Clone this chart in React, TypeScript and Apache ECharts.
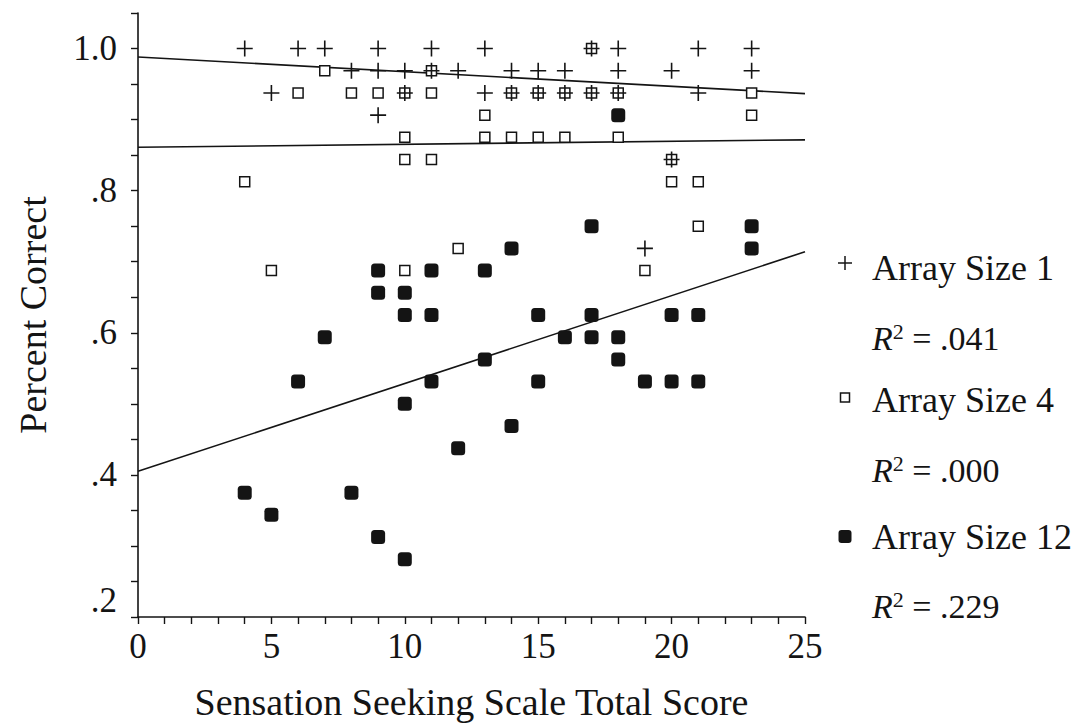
import React, { useEffect, useRef } from 'react';
import * as echarts from 'echarts';

// Sensation Seeking Scale total score (x) vs percent correct (y)
const size1Points: [number, number][] = [
  [4, 1.0], [5, 0.9375], [6, 1.0], [7, 1.0], [8, 0.96875], [9, 1.0], [9, 0.96875], [9, 0.90625],
  [10, 0.96875], [10, 0.9375], [11, 1.0], [11, 0.96875], [12, 0.96875], [13, 1.0], [13, 0.9375],
  [14, 0.96875], [14, 0.9375], [15, 0.96875], [15, 0.9375], [16, 0.96875], [16, 0.9375],
  [17, 1.0], [17, 0.9375], [18, 1.0], [18, 0.96875], [18, 0.9375], [19, 0.71875],
  [20, 0.96875], [20, 0.84375], [21, 1.0], [21, 0.9375], [23, 1.0], [23, 0.96875],
];

const size4Points: [number, number][] = [
  [4, 0.8125], [5, 0.6875], [6, 0.9375], [7, 0.96875], [8, 0.9375], [9, 0.9375],
  [10, 0.9375], [10, 0.875], [10, 0.84375], [10, 0.6875], [11, 0.96875], [11, 0.9375], [11, 0.84375],
  [12, 0.71875], [13, 0.90625], [13, 0.875], [14, 0.9375], [14, 0.875], [15, 0.9375], [15, 0.875],
  [16, 0.9375], [16, 0.875], [17, 1.0], [17, 0.9375], [18, 0.9375], [18, 0.875], [19, 0.6875],
  [20, 0.84375], [20, 0.8125], [21, 0.8125], [21, 0.75], [23, 0.9375], [23, 0.90625],
];

const size12Points: [number, number][] = [
  [4, 0.375], [5, 0.34375], [6, 0.53125], [7, 0.59375], [8, 0.375], [9, 0.6875], [9, 0.65625], [9, 0.3125],
  [10, 0.65625], [10, 0.625], [10, 0.5], [10, 0.28125], [11, 0.6875], [11, 0.625], [11, 0.53125],
  [12, 0.4375], [13, 0.6875], [13, 0.5625], [14, 0.71875], [14, 0.46875], [15, 0.625], [15, 0.53125],
  [16, 0.59375], [17, 0.75], [17, 0.625], [17, 0.59375], [18, 0.90625], [18, 0.59375], [18, 0.5625],
  [19, 0.53125], [20, 0.625], [20, 0.53125], [21, 0.625], [21, 0.53125], [23, 0.75], [23, 0.71875],
];

// Fitted regression lines (intercept, slope) for sizes 1, 4, 12
const fitIntercepts = [0.988, 0.861, 0.405];
const fitSlopes = [-0.00206, 0.00042, 0.01236];

const seriesNames = ['Array Size 1', 'Array Size 4', 'Array Size 12'];
const rSquaredLabels = ['.041', '.000', '.229'];

const xMin = 0;
const xMax = 25;
const yMin = 0.2;
const yMax = 1.05;

const FONT = "'Liberation Serif', 'Times New Roman', serif";
const INK = '#141414';

export default function App() {
  const ref = useRef<HTMLDivElement>(null);

  useEffect(() => {
    if (!ref.current) return;
    const chart = echarts.init(ref.current, undefined, { renderer: 'svg' });

    const fitSeries = fitIntercepts.map((a, i) => ({
      type: 'line',
      name: 'fit' + i,
      data: [
        [xMin, a + fitSlopes[i] * xMin],
        [xMax, a + fitSlopes[i] * xMax],
      ],
      symbol: 'none',
      silent: true,
      z: 1,
      lineStyle: { color: INK, width: 1.6 },
    }));

    const legendX = 845;
    const textX = 872;
    const rows = [268, 338, 400, 470, 537, 606];
    const textStyleBase = { fontFamily: FONT, fontSize: 36, fill: INK, verticalAlign: 'middle', align: 'left' };

    const rText = (val: string, y: number) => ({
      type: 'text',
      x: textX,
      y,
      style: {
        ...textStyleBase,
        text: '{r|R}{s|2}{n| = ' + val + '}',
        rich: {
          r: { fontFamily: FONT, fontSize: 34, fontStyle: 'italic', fill: INK, lineHeight: 36 },
          s: { fontFamily: FONT, fontSize: 22, fill: INK, verticalAlign: 'top', lineHeight: 36 },
          n: { fontFamily: FONT, fontSize: 34, fill: INK, lineHeight: 36 },
        },
      },
    });

    const graphic: any[] = [
      { type: 'line', shape: { x1: legendX - 7, y1: rows[0] - 5, x2: legendX + 7, y2: rows[0] - 5 }, style: { stroke: INK, lineWidth: 1.5 } },
      { type: 'line', shape: { x1: legendX, y1: rows[0] - 12, x2: legendX, y2: rows[0] + 2 }, style: { stroke: INK, lineWidth: 1.5 } },
      { type: 'text', x: textX, y: rows[0], style: { ...textStyleBase, text: seriesNames[0] } },
      rText(rSquaredLabels[0], rows[1]),
      { type: 'rect', shape: { x: legendX - 4.5, y: rows[2] - 7, width: 9, height: 9 }, style: { fill: '#fff', stroke: INK, lineWidth: 1.5 } },
      { type: 'text', x: textX, y: rows[2], style: { ...textStyleBase, text: seriesNames[1] } },
      rText(rSquaredLabels[1], rows[3]),
      { type: 'rect', shape: { x: legendX - 6.5, y: rows[4] - 7, width: 13, height: 13, r: 3 }, style: { fill: INK } },
      { type: 'text', x: textX, y: rows[4], style: { ...textStyleBase, text: seriesNames[2] } },
      rText(rSquaredLabels[2], rows[5]),
    ];

    chart.setOption({
      animation: false,
      backgroundColor: '#fff',
      grid: { left: 138, right: 279, top: 13, bottom: 110, containLabel: false, outerBoundsMode: 'none' },
      xAxis: {
        type: 'value',
        min: xMin,
        max: xMax,
        interval: 1,
        name: 'Sensation Seeking Scale Total Score',
        nameLocation: 'middle',
        nameGap: 66,
        nameTextStyle: { fontFamily: FONT, fontSize: 38, color: INK },
        axisLine: { show: true, lineStyle: { color: INK, width: 1.6 } },
        axisTick: { show: true, inside: false, length: 7, lineStyle: { color: INK, width: 1.4 } },
        axisLabel: {
          fontFamily: FONT,
          fontSize: 35,
          color: INK,
          margin: 12,
          formatter: (v: number) => (Math.round(v) % 5 === 0 ? String(Math.round(v)) : ''),
        },
        splitLine: { show: false },
      },
      yAxis: {
        type: 'value',
        min: yMin,
        max: yMax,
        interval: 0.05,
        name: 'Percent Correct',
        nameLocation: 'middle',
        nameGap: 86,
        nameTextStyle: { fontFamily: FONT, fontSize: 38, color: INK },
        axisLine: { show: true, lineStyle: { color: INK, width: 1.6 } },
        axisTick: { show: true, inside: false, length: 7, lineStyle: { color: INK, width: 1.4 } },
        axisLabel: {
          fontFamily: FONT,
          fontSize: 35,
          color: INK,
          margin: 21,
          formatter: (v: number) => {
            const p = Math.round(v * 100);
            if (p % 20 !== 0) return '';
            if (p === 100) return '1.0';
            if (p === 20) return '{lift|.2}';
            return '.' + p / 10;
          },
          rich: {
            lift: { fontFamily: FONT, fontSize: 35, color: INK, padding: [0, 0, 34, 0] },
          },
        },
        splitLine: { show: false },
      },
      series: [
        ...fitSeries,
        {
          type: 'scatter',
          name: seriesNames[1],
          data: size4Points,
          symbol: 'rect',
          symbolSize: 10,
          z: 2,
          itemStyle: { color: '#fff', borderColor: INK, borderWidth: 1.5, opacity: 1 },
        },
        {
          type: 'scatter',
          name: seriesNames[0],
          data: size1Points,
          symbol: 'path://M0,8H16M8,0V16',
          symbolSize: 16,
          z: 3,
          itemStyle: { color: 'rgba(0,0,0,0)', borderColor: INK, borderWidth: 1.6, opacity: 1 },
        },
        {
          type: 'scatter',
          name: seriesNames[2],
          data: size12Points,
          symbol: 'roundRect',
          symbolSize: 14,
          z: 4,
          itemStyle: { color: INK, opacity: 1 },
        },
      ],
      graphic,
    });

    return () => chart.dispose();
  }, []);

  return (
    <div
      ref={ref}
      style={{ position: 'fixed', left: 0, top: 0, width: 1084, height: 727, background: '#fff' }}
    />
  );
}
